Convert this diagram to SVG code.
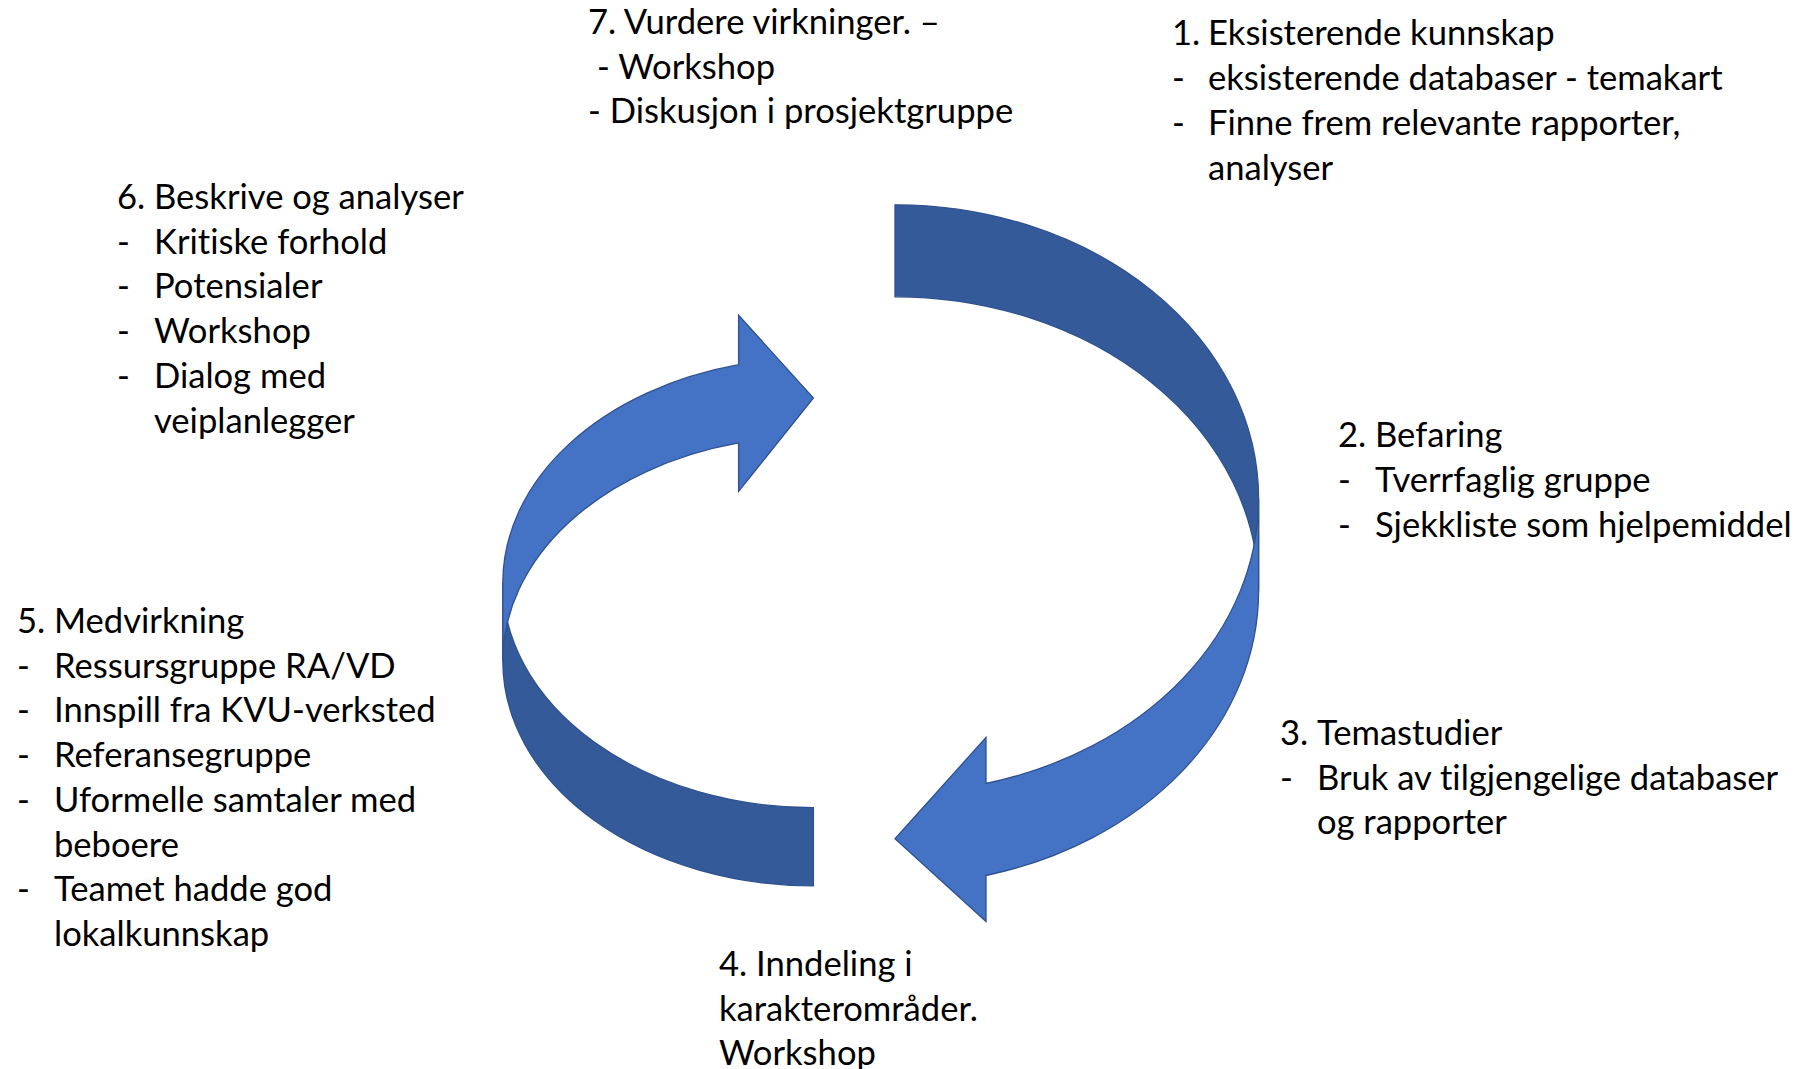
<svg xmlns="http://www.w3.org/2000/svg" width="1804" height="1069" viewBox="0 0 1804 1069">
  <style>
    .t { font-family: Lato, "Open Sans", "Liberation Sans", sans-serif; font-size: 34.6px; fill: #000000; font-variant-ligatures: none; font-feature-settings: "liga" 0, "clig" 0; }
    .light { fill: #4472C4; stroke: #2F528F; stroke-width: 1.3; stroke-linejoin: miter; }
    .dark { fill: #355A99; stroke: #2F528F; stroke-width: 1.3; stroke-linejoin: miter; }
  </style>
  <rect width="1804" height="1069" fill="#FFFFFF"/>

  <g id="connectors">
    <g id="arrow-right">
      <path class="dark" d="M895,204.8 A363.6,294 0 0 1 1258.6,498.8 L1258.6,590.8 A363.6,294 0 0 0 895,296.8 Z"/>
      <path class="light" d="M1258.6,498.8 A363.6,294 0 0 1 986,783.5 L986,737.5 L895,838.7 L986,921.5 L986,875.5 A363.6,294 0 0 0 1258.6,590.8 Z"/>
    </g>
    <g id="arrow-left">
      <path class="dark" d="M502.8,582.9 A310.6,224.8 0 0 0 813.4,807.7 L813.4,885.9 A310.6,224.8 0 0 1 502.8,661.1 Z"/>
      <path class="light" d="M502.8,582.9 A310.6,224.8 0 0 1 738.6,364.7 L738.6,315.2 L813.4,398 L738.6,491.3 L738.6,442.9 A310.6,224.8 0 0 0 502.8,661.1 Z"/>
    </g>
  </g>

  <g id="step7">
    <text class="t" x="588" y="33.5">7. Vurdere virkninger. –</text>
    <text class="t" x="597" y="78.5">- Workshop</text>
    <text class="t" x="588" y="123">- Diskusjon i prosjektgruppe</text>
  </g>

  <g id="step1">
    <text class="t" x="1172" y="44.5">1.</text><text class="t" x="1208" y="44.5">Eksisterende kunnskap</text>
    <text class="t" x="1172" y="89.5">-</text><text class="t" x="1208" y="89.5">eksisterende databaser - temakart</text>
    <text class="t" x="1172" y="134.5">-</text><text class="t" x="1208" y="134.5">Finne frem relevante rapporter,</text>
    <text class="t" x="1208" y="179.5">analyser</text>
  </g>

  <g id="step2">
    <text class="t" x="1338" y="446.5">2.</text><text class="t" x="1375" y="446.5">Befaring</text>
    <text class="t" x="1338" y="491.5">-</text><text class="t" x="1375" y="491.5">Tverrfaglig gruppe</text>
    <text class="t" x="1338" y="536.5">-</text><text class="t" x="1375" y="536.5">Sjekkliste som hjelpemiddel</text>
  </g>

  <g id="step3">
    <text class="t" x="1280" y="744.5">3.</text><text class="t" x="1317" y="744.5">Temastudier</text>
    <text class="t" x="1280" y="789.5">-</text><text class="t" x="1317" y="789.5">Bruk av tilgjengelige databaser</text>
    <text class="t" x="1317" y="833.5">og rapporter</text>
  </g>

  <g id="step4">
    <text class="t" x="719" y="975.5">4. Inndeling i</text>
    <text class="t" x="719" y="1020.5">karakterområder.</text>
    <text class="t" x="719" y="1064.5">Workshop</text>
  </g>

  <g id="step5">
    <text class="t" x="17" y="632.5">5.</text><text class="t" x="54" y="632.5">Medvirkning</text>
    <text class="t" x="17" y="677.5">-</text><text class="t" x="54" y="677.5">Ressursgruppe RA/VD</text>
    <text class="t" x="17" y="721.5">-</text><text class="t" x="54" y="721.5">Innspill fra KVU-verksted</text>
    <text class="t" x="17" y="766.5">-</text><text class="t" x="54" y="766.5">Referansegruppe</text>
    <text class="t" x="17" y="811.5">-</text><text class="t" x="54" y="811.5">Uformelle samtaler med</text>
    <text class="t" x="54" y="856.5">beboere</text>
    <text class="t" x="17" y="900.5">-</text><text class="t" x="54" y="900.5">Teamet hadde god</text>
    <text class="t" x="54" y="945.5">lokalkunnskap</text>
  </g>

  <g id="step6">
    <text class="t" x="117" y="208.5">6.</text><text class="t" x="154" y="208.5">Beskrive og analyser</text>
    <text class="t" x="117" y="253.5">-</text><text class="t" x="154" y="253.5">Kritiske forhold</text>
    <text class="t" x="117" y="297.5">-</text><text class="t" x="154" y="297.5">Potensialer</text>
    <text class="t" x="117" y="342.5">-</text><text class="t" x="154" y="342.5">Workshop</text>
    <text class="t" x="117" y="387.5">-</text><text class="t" x="154" y="387.5">Dialog med</text>
    <text class="t" x="154" y="432.5">veiplanlegger</text>
  </g>
</svg>
